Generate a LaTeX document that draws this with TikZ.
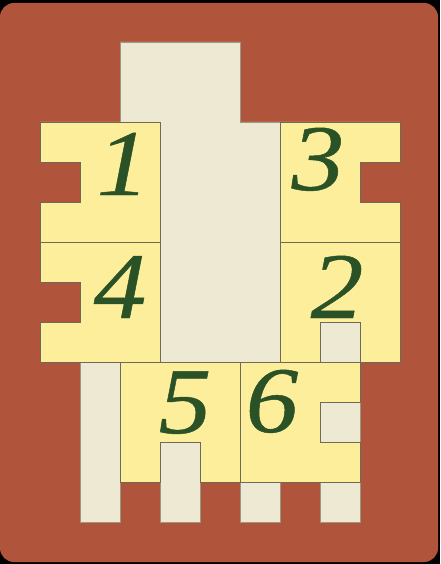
\documentclass[tikz,border=0pt]{standalone}
\usepackage{fontspec}
\newfontfamily\digitfont[FakeBold=0.5]{Liberation Serif}
\definecolor{bgred}{HTML}{B0553C}
\definecolor{pieceyel}{HTML}{FDEE9C}
\definecolor{holelt}{HTML}{EDE9D3}
\definecolor{edgec}{HTML}{6E6A55}
\definecolor{digitg}{HTML}{2A5226}
\tikzset{
  yelpiece/.style={fill=pieceyel, draw=edgec, line width=0.7pt, line join=miter},
  holepiece/.style={fill=holelt, draw=edgec!70, line width=0.6pt},
  digit/.style={anchor=base, text=digitg, inner sep=0pt, xscale=1.12, font=\fontsize{94}{94}\selectfont\digitfont\itshape}
}
\begin{document}
\begin{tikzpicture}[x=1pt,y=-1pt]
\useasboundingbox (0,0) rectangle (440,564);
\fill[black] (0,0) rectangle (440,564);
\fill[bgred, rounded corners=14pt] (0,3) rectangle (438,562);
% light areas
\draw[holepiece] (120,42) -- (240,42) -- (240,122) -- (280,122) -- (280,362) -- (160,362) -- (160,122) -- (120,122) -- cycle;
\draw[holepiece] (80,362) rectangle (120,522);
\draw[holepiece] (160,442) rectangle (200,522);
\draw[holepiece] (320,402) rectangle (360,442);
\draw[holepiece] (240,482) rectangle (280,522);
\draw[holepiece] (320,482) rectangle (360,522);
\draw[holepiece] (320,322) rectangle (360,362);
% yellow pieces
\draw[yelpiece] (40,122) -- (160,122) -- (160,242) -- (40,242) -- (40,202) -- (80,202) -- (80,162) -- (40,162) -- cycle;
\draw[yelpiece] (280,122) -- (400,122) -- (400,162) -- (360,162) -- (360,202) -- (400,202) -- (400,242) -- (280,242) -- cycle;
\draw[yelpiece] (40,242) -- (160,242) -- (160,362) -- (40,362) -- (40,322) -- (80,322) -- (80,282) -- (40,282) -- cycle;
\draw[yelpiece] (280,242) -- (400,242) -- (400,362) -- (360,362) -- (360,322) -- (320,322) -- (320,362) -- (280,362) -- cycle;
\draw[yelpiece] (120,362) -- (240,362) -- (240,482) -- (200,482) -- (200,442) -- (160,442) -- (160,482) -- (120,482) -- cycle;
\draw[yelpiece] (240,362) -- (360,362) -- (360,402) -- (320,402) -- (320,442) -- (360,442) -- (360,482) -- (240,482) -- cycle;
% digits
\node[digit] (d1) at (123,195) {1};
\node[digit] (d3) at (318,190) {3};
\node[digit] (d4) at (120,318) {4};
\node[digit] (d2) at (337,318) {2};
\node[digit] (d5) at (185,433) {5};
\node[digit] (d6) at (272,432) {6};
\end{tikzpicture}
\end{document}
